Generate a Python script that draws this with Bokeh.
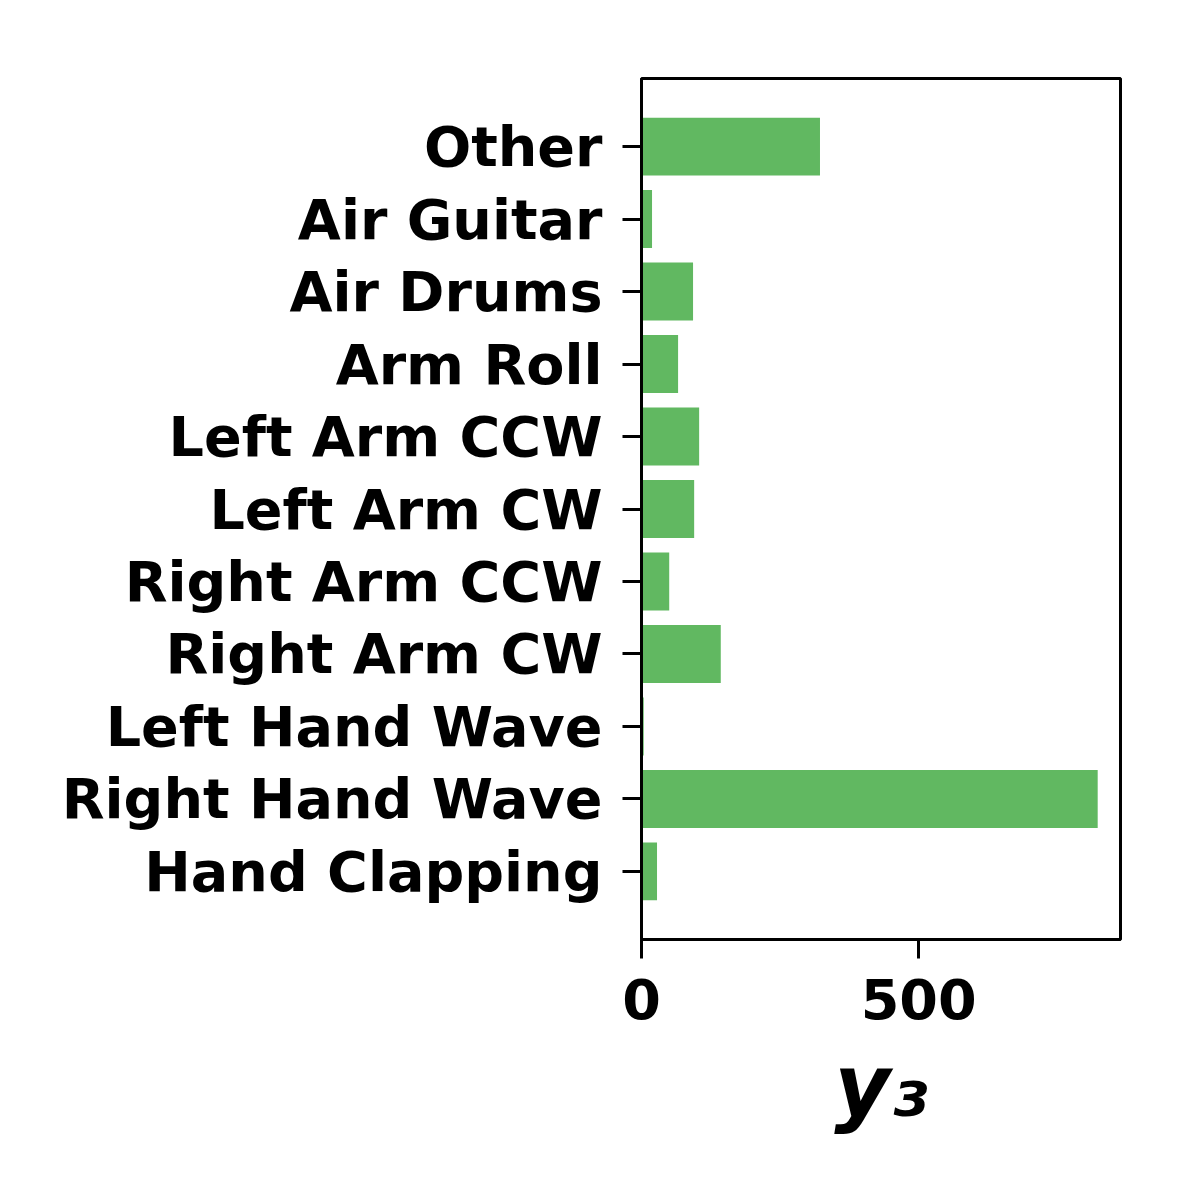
from bokeh.plotting import figure
from bokeh.models import Range1d, FixedTicker
from bokeh.embed import file_html
from bokeh.resources import INLINE

categories = ["Hand Clapping", "Right Hand Wave", "Left Hand Wave", "Right Arm CW",
              "Right Arm CCW", "Left Arm CW", "Left Arm CCW", "Arm Roll",
              "Air Drums", "Air Guitar", "Other"]
values = [28, 823, 4, 143, 50, 95, 104, 66, 93, 19, 322]
x_ticks = [0, 500]

idx = list(range(len(categories)))
xmax = max(values) * 1.05

p = figure(width=1200, height=1200, output_backend="svg", toolbar_location=None,
           x_range=Range1d(0, xmax), y_range=Range1d(-0.94, len(categories) - 1 + 0.94),
           min_border_left=641, min_border_right=80, min_border_top=78, min_border_bottom=261)

p.hbar(y=idx, right=values, left=0, height=0.8, fill_color="#61b861", line_color=None)

p.grid.visible = False
p.outline_line_color = "black"
p.outline_line_width = 3
p.background_fill_color = "white"
p.border_fill_color = "white"

p.yaxis.ticker = FixedTicker(ticks=idx)
p.yaxis.major_label_overrides = {i: c for i, c in zip(idx, categories)}
p.xaxis.ticker = FixedTicker(ticks=x_ticks)

for ax in (p.xaxis[0], p.yaxis[0]):
    ax.axis_line_color = "black"
    ax.axis_line_width = 3
    ax.major_tick_line_color = "black"
    ax.major_tick_line_width = 3
    ax.major_tick_out = 19
    ax.major_tick_in = 0
    ax.minor_tick_line_color = None
    ax.major_label_text_font = "DejaVu Sans"
    ax.major_label_text_font_style = "bold"
    ax.major_label_text_font_size = "55.6px"
    ax.major_label_text_color = "black"

p.yaxis.major_label_standoff = 20
p.yaxis.major_label_text_baseline = "middle"
p.xaxis.major_label_standoff = 20

p.xaxis.axis_label = "y₃"
p.xaxis.axis_label_text_font = "DejaVu Sans"
p.xaxis.axis_label_text_font_style = "bold italic"
p.xaxis.axis_label_text_font_size = "86px"
p.xaxis.axis_label_text_color = "black"
p.xaxis.axis_label_standoff = 14

open("out.html", "w").write(file_html(p, INLINE))
